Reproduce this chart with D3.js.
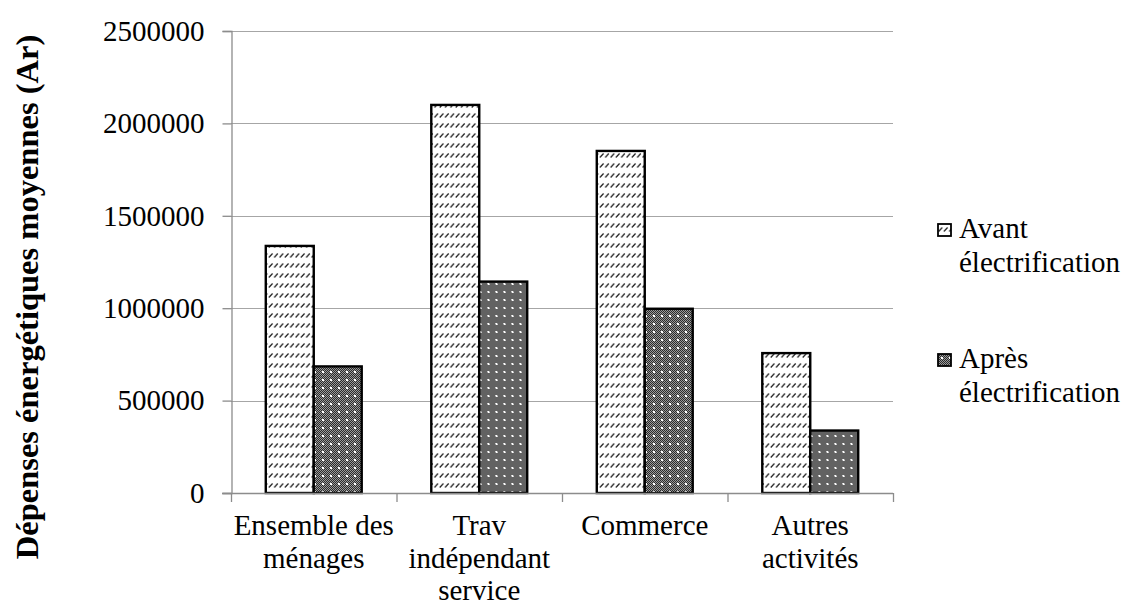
<!DOCTYPE html>
<html>
<head>
<meta charset="utf-8">
<script src="https://cdn.jsdelivr.net/npm/d3@7"></script>
<style>
  html, body { margin: 0; padding: 0; background: #fff; }
  svg text { font-family: "Liberation Serif", serif; }
</style>
</head>
<body>
<svg id="chart" width="1125" height="605"></svg>
<script>
// Average energy spending (Ariary) before and after electrification
const categories = [
  ["Ensemble des", "ménages"],
  ["Trav", "indépendant", "service"],
  ["Commerce"],
  ["Autres", "activités"]
];
const seriesNames = [["Avant", "électrification"], ["Après", "électrification"]];
const avant = [1337000, 2100000, 1851000, 757000];
const apres = [685000, 1144000, 997000, 338000];
const yTicks = [0, 500000, 1000000, 1500000, 2000000, 2500000];
const yTitle = "Dépenses énergétiques moyennes (Ar)";

const FONT = "Liberation Serif, serif";
const svg = d3.select("#chart");
const plotLeft = 231, plotRight = 893, plotTop = 31, plotBottom = 493;

// Fill patterns: hatched for "before", dotted dark stipple for "after"
const defs = svg.append("defs");
const hatch = defs.append("pattern")
  .attr("id", "hatch").attr("patternUnits", "userSpaceOnUse")
  .attr("width", 5.33).attr("height", 10);
hatch.append("rect").attr("width", 5.33).attr("height", 10).attr("fill", "#fff");
hatch.append("line").attr("x1", 0.6).attr("y1", 7.5).attr("x2", 4.2).attr("y2", 3.5)
  .attr("stroke", "#222").attr("stroke-width", 1.2);

const stip = defs.append("pattern")
  .attr("id", "stip").attr("patternUnits", "userSpaceOnUse")
  .attr("width", 8).attr("height", 8);
stip.append("rect").attr("width", 8).attr("height", 8).attr("fill", "#9a9a9a");
for (let i = 0; i < 8; i++) {
  for (let j = 0; j < 8; j++) {
    if ((i + j) % 2 === 0) {
      stip.append("rect").attr("x", i).attr("y", j).attr("width", 1).attr("height", 1).attr("fill", "#2a2a2a");
    }
  }
}
stip.append("rect").attr("x", 3).attr("y", 3).attr("width", 2).attr("height", 2).attr("fill", "#fff");

const x = d3.scaleBand().domain(d3.range(categories.length)).range([plotLeft, plotRight]).padding(0);
const xs = d3.scaleBand().domain([0, 1]).range([0, x.bandwidth()]).paddingInner(0).paddingOuter(0.725);
const y = d3.scaleLinear().domain([0, 2500000]).range([plotBottom, plotTop]);

// Horizontal gridlines
svg.append("g").selectAll("line").data(yTicks.slice(1)).join("line")
  .attr("x1", plotLeft).attr("x2", plotRight)
  .attr("y1", d => Math.round(y(d)) + 0.5).attr("y2", d => Math.round(y(d)) + 0.5)
  .attr("stroke", "#a6a6a6").attr("stroke-width", 1.2);

// Y axis
const yAxis = svg.append("g").attr("transform", `translate(${plotLeft + 0.5},0)`)
  .call(d3.axisLeft(y).tickValues(yTicks).tickSize(9).tickPadding(18).tickFormat(d3.format("d")));
yAxis.attr("font-family", FONT);
yAxis.select(".domain").attr("stroke", "#8c8c8c").attr("stroke-width", 1.3);
yAxis.selectAll(".tick line").attr("stroke", "#8c8c8c").attr("stroke-width", 1.3);
yAxis.selectAll(".tick text")
  .attr("font-family", FONT).attr("font-size", 29).attr("fill", "#000");

// Bars
const groups = svg.append("g").selectAll("g").data(categories).join("g")
  .attr("transform", (d, i) => `translate(${x(i)},0)`);
groups.append("rect")
  .attr("x", xs(0)).attr("width", xs.bandwidth())
  .attr("y", (d, i) => y(avant[i])).attr("height", (d, i) => plotBottom - y(avant[i]))
  .attr("fill", "url(#hatch)").attr("stroke", "#000").attr("stroke-width", 2.4);
groups.append("rect")
  .attr("x", xs(1)).attr("width", xs.bandwidth())
  .attr("y", (d, i) => y(apres[i])).attr("height", (d, i) => plotBottom - y(apres[i]))
  .attr("fill", "url(#stip)").attr("stroke", "#000").attr("stroke-width", 2.4);

// X axis with ticks between categories
const xAxisG = svg.append("g");
xAxisG.append("line").attr("x1", 222).attr("x2", plotRight).attr("y1", plotBottom + 0.5).attr("y2", plotBottom + 0.5)
  .attr("stroke", "#8c8c8c").attr("stroke-width", 1.3);
xAxisG.selectAll("line.tk").data(d3.range(categories.length + 1)).join("line").attr("class", "tk")
  .attr("x1", i => plotLeft + i * x.step() + 0.5).attr("x2", i => plotLeft + i * x.step() + 0.5)
  .attr("y1", plotBottom).attr("y2", plotBottom + 9)
  .attr("stroke", "#8c8c8c").attr("stroke-width", 1.3);

// Category labels
const labels = svg.append("g").selectAll("text").data(categories).join("text")
  .attr("text-anchor", "middle").attr("font-family", FONT).attr("font-size", 29).attr("fill", "#000")
  .attr("transform", (d, i) => `translate(${x(i) + x.bandwidth() / 2},535)`);
labels.selectAll("tspan").data(d => d).join("tspan")
  .attr("x", 0).attr("y", (d, k) => k * 32.5).text(d => d);

// Y axis title
svg.append("text")
  .attr("transform", "translate(38,297) rotate(-90)")
  .attr("text-anchor", "middle").attr("font-family", FONT)
  .attr("font-weight", "bold").attr("font-size", 32.5)
  .text(yTitle);

// Legend
const legend = svg.append("g").selectAll("g").data(seriesNames).join("g")
  .attr("transform", (d, i) => `translate(938,${224 + i * 130})`);
legend.append("rect").attr("width", 13).attr("height", 12)
  .attr("fill", (d, i) => i === 0 ? "url(#hatch)" : "url(#stip)")
  .attr("stroke", "#000").attr("stroke-width", 1.8);
const lt = legend.append("text").attr("font-family", FONT).attr("font-size", 29).attr("fill", "#000");
lt.selectAll("tspan").data(d => d).join("tspan")
  .attr("x", 21).attr("y", (d, k) => 14 + k * 33.7).text(d => d);
</script>
</body>
</html>
